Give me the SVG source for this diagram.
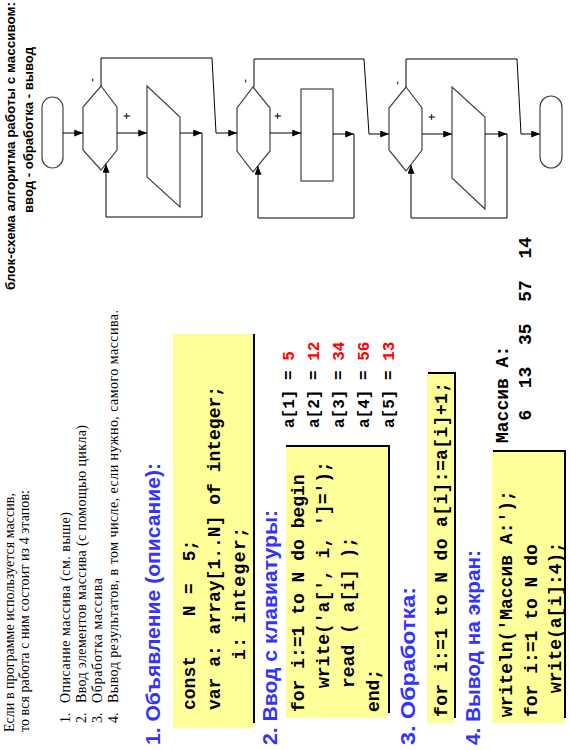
<svg xmlns="http://www.w3.org/2000/svg" width="570" height="750" viewBox="0 0 570 750">
<style>
.hdr{font-family:"Liberation Sans",Arial,sans-serif;font-weight:bold;font-size:13px;fill:#000}
.intro{font-family:"Liberation Serif","Times New Roman",serif;font-size:14px;fill:#000}
.h{font-family:"Liberation Sans",Arial,sans-serif;font-weight:bold;font-size:20px;fill:#3333ff}
.code{font-family:"Liberation Mono","Courier New",monospace;font-weight:bold;font-size:18px;fill:#000;white-space:pre}
.val{font-size:16px}
.red{fill:#ff0000}
.lbl{font-family:"Liberation Sans",Arial,sans-serif;font-size:12px;fill:#000;text-anchor:middle}
.box{fill:#ffff99;stroke:none}
.shadow{fill:none;stroke:#000;stroke-width:2}
.shape{fill:#fff;stroke:#444;stroke-width:1.2}
.conn{fill:none;stroke:#000;stroke-width:1}
</style>
<defs>
<marker id="arr" viewBox="0 0 10 8" refX="10" refY="4" markerWidth="9" markerHeight="7" markerUnits="userSpaceOnUse" orient="auto">
<path d="M0,0 L10,4 L0,8 z" fill="#000"/>
</marker>
</defs>
<rect width="570" height="750" fill="#fff"/>

<!-- code boxes (screen coords) -->
<g id="box1">
<rect class="box" x="173" y="334" width="80" height="394"/>
<line class="shadow" x1="254" y1="334" x2="254" y2="723"/>
</g>
<g id="box2">
<rect class="box" x="286" y="445" width="102" height="273"/>
<polyline class="shadow" points="286,446 389,446 389,713"/>
</g>
<g id="box3">
<rect class="box" x="427" y="372" width="28" height="351"/>
<polyline class="shadow" points="428,373 455,373 455,718"/>
</g>
<g id="box4">
<rect class="box" x="492" y="450" width="73" height="273"/>
<polyline class="shadow" points="493,451 565,451 565,718"/>
</g>

<!-- all text, in rotated slide coordinates -->
<g transform="translate(0,750) rotate(-90)">
<g id="header">
<text class="hdr" x="460" y="15" textLength="288" lengthAdjust="spacingAndGlyphs">блок-схема алгоритма работы с массивом:</text>
<text class="hdr" x="537" y="33" textLength="166" lengthAdjust="spacingAndGlyphs">ввод - обработка - вывод</text>
</g>
<g id="intro">
<text class="intro" x="18" y="14" textLength="239">Если в программе используется массив,</text>
<text class="intro" x="18" y="29" textLength="242">то вся работа с ним состоит из 4 этапов:</text>
<text class="intro" x="27" y="70">1.</text>
<text class="intro" x="47" y="70" textLength="191">Описание массива (см.  выше)</text>
<text class="intro" x="27" y="86">2.</text>
<text class="intro" x="47" y="86" textLength="278">Ввод элементов массива (с помощью цикла)</text>
<text class="intro" x="27" y="102">3.</text>
<text class="intro" x="47" y="102" textLength="125">Обработка массива</text>
<text class="intro" x="27" y="118">4.</text>
<text class="intro" x="47" y="118" textLength="393">Вывод результатов,  в том числе, если нужно, самого  массива.</text>
</g>
<g id="sec1">
<text class="h" x="5" y="160" textLength="282" lengthAdjust="spacingAndGlyphs">1. Объявление (описание):</text>
<text class="code" x="40" y="195">const<tspan x="123"> N</tspan><tspan x="145"> =</tspan><tspan x="178"> 5;</tspan></text>
<text class="code" x="40" y="220">var a: array[1..N] of integer;</text>
<text class="code" x="90" y="245" textLength="133">i: integer;</text>
</g>
<g id="sec2">
<text class="h" x="5" y="277" textLength="235" lengthAdjust="spacingAndGlyphs">2. Ввод с клавиатуры:</text>
<text class="code" x="38" y="304">for i:=1 to N do begin</text>
<text class="code" x="62" y="329">write('a[', i, ']=');</text>
<text class="code" x="62" y="354">read ( a[i] );</text>
<text class="code" x="38" y="379">end;</text>
<text class="code val" x="322" y="294">a[1] = <tspan class="red">5</tspan></text>
<text class="code val" x="322" y="319">a[2] = <tspan class="red">12</tspan></text>
<text class="code val" x="322" y="344">a[3] = <tspan class="red">34</tspan></text>
<text class="code val" x="322" y="369">a[4] = <tspan class="red">56</tspan></text>
<text class="code val" x="322" y="394">a[5] = <tspan class="red">13</tspan></text>
</g>
<g id="sec3">
<text class="h" x="5" y="415" textLength="158" lengthAdjust="spacingAndGlyphs">3. Обработка:</text>
<text class="code" x="33" y="447" textLength="335">for i:=1 to N do a[i]:=a[i]+1;</text>
</g>
<g id="sec4">
<text class="h" x="5" y="480" textLength="195" lengthAdjust="spacingAndGlyphs">4. Вывод на экран:</text>
<text class="code" x="33" y="512">writeln('Массив A:');</text>
<text class="code" x="33" y="537">for i:=1 to N do</text>
<text class="code" x="57" y="561">write(a[i]:4);</text>
<text class="code" x="307" y="508">Массив A:</text>
<text class="code" x="297" y="531">   6  13  35  57  14</text>
</g>
<g id="labels">
<text class="lbl" x="670" y="96">-</text>
<text class="lbl" x="634" y="131">+</text>
<text class="lbl" x="669" y="249">-</text>
<text class="lbl" x="634" y="282">+</text>
<text class="lbl" x="667" y="401">-</text>
<text class="lbl" x="633" y="436">+</text>
</g>
</g>

<!-- flowchart (screen coords) -->
<g id="start"><rect class="shape" x="42" y="97" width="21" height="71" rx="10.5" ry="10.5"/></g>
<g id="loop1"><polygon class="shape" points="101,86 117,107 117,150 101,170 83,150 83,107"/></g>
<g id="input"><polygon class="shape" points="147,86 180,117 180,207 147,177"/></g>
<g id="loop2"><polygon class="shape" points="253,87 270,108 270,151 253,172 237,151 237,108"/></g>
<g id="process"><rect class="shape" x="301" y="89" width="32" height="92"/></g>
<g id="loop3"><polygon class="shape" points="406,87 422,108 422,150 406,171 389,150 389,108"/></g>
<g id="output"><polygon class="shape" points="452,87 485,117 485,209 452,178"/></g>
<g id="end"><rect class="shape" x="540" y="96" width="22" height="72" rx="11" ry="11"/></g>

<g id="connectors" class="conn">
<line x1="63" y1="133" x2="83" y2="133" marker-end="url(#arr)"/>
<line x1="117" y1="133" x2="147" y2="133" marker-end="url(#arr)"/>
<line x1="180" y1="133" x2="202" y2="133" marker-end="url(#arr)"/>
<polyline points="202,133 202,217 106,217 106,164" marker-end="url(#arr)"/>
<polyline points="101,86 101,58 212,58 216,133 237,133" marker-end="url(#arr)"/>
<line x1="270" y1="133" x2="301" y2="133" marker-end="url(#arr)"/>
<line x1="333" y1="134" x2="354" y2="134" marker-end="url(#arr)"/>
<polyline points="354,134 354,218 258,218 258,166" marker-end="url(#arr)"/>
<polyline points="254,87 254,59 364,59 369,134 389,134" marker-end="url(#arr)"/>
<line x1="422" y1="134" x2="452" y2="134" marker-end="url(#arr)"/>
<line x1="485" y1="134" x2="507" y2="134" marker-end="url(#arr)"/>
<polyline points="507,134 507,218 411,218 411,165" marker-end="url(#arr)"/>
<polyline points="406,87 406,59 517,59 521,134 540,134" marker-end="url(#arr)"/>
</g>
</svg>
